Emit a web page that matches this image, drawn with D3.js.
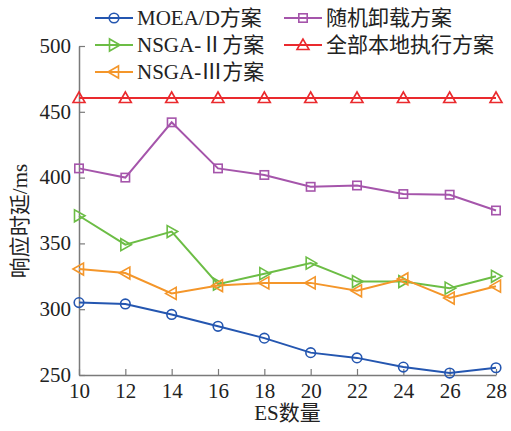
<!DOCTYPE html>
<html>
<head>
<meta charset="utf-8">
<script src="https://cdn.jsdelivr.net/npm/d3@7"></script>
<style>
  html, body { margin: 0; padding: 0; background: #fff; }
</style>
</head>
<body>
<svg id="chart" width="511" height="431"></svg>
<script>
// ES count on the x axis
const esCounts = [10, 12, 14, 16, 18, 20, 22, 24, 26, 28];
const xTicks = [10, 12, 14, 16, 18, 20, 22, 24, 26, 28];
const yTicks = [250, 300, 350, 400, 450, 500];

// Response latency (ms) per scheme
const moead     = [305, 304, 296, 287, 278, 267, 263, 256, 251.5, 255.5];
const randomOff = [407, 400, 442, 407, 402, 393, 394, 387.5, 387, 375];
const nsga2     = [371, 349, 359, 319, 327, 335, 321, 321, 316, 325];
const allLocal  = [460.5, 460.5, 460.5, 460.5, 460.5, 460.5, 460.5, 460.5, 460.5, 460.5];
const nsga3     = [330.5, 327.5, 312, 318, 320, 320, 314, 323, 308.5, 317.5];

const seriesNames = ["MOEA/D方案", "随机卸载方案", "NSGA-Ⅱ方案", "全部本地执行方案", "NSGA-Ⅲ方案"];

const series = [
  { name: seriesNames[0], values: moead,     color: "#2456b0", marker: "circle" },
  { name: seriesNames[1], values: randomOff, color: "#a555ab", marker: "square" },
  { name: seriesNames[2], values: nsga2,     color: "#6cbd45", marker: "triRight" },
  { name: seriesNames[3], values: allLocal,  color: "#ea2a2e", marker: "triUp" },
  { name: seriesNames[4], values: nsga3,     color: "#f4962a", marker: "triLeft" }
];

const FONT = "'Liberation Serif', 'Noto Sans CJK SC', serif";
const svg = d3.select("#chart");
const margin = { left: 79, right: 15, top: 46, bottom: 56 };
const W = 511, H = 431;

const x = d3.scaleLinear().domain([10, 28]).range([margin.left, W - margin.right]);
const y = d3.scaleLinear().domain([250, 500]).range([H - margin.bottom, margin.top]);

// Axes: bottom and left only, ticks pointing inward
const axisColor = "#7a7a7a";
const xAxis = svg.append("g")
  .attr("transform", `translate(0,${y(250)})`)
  .call(d3.axisBottom(x).tickValues(xTicks).tickSizeInner(-6).tickSizeOuter(0).tickPadding(5).tickFormat(d3.format("d")));
const yAxis = svg.append("g")
  .attr("transform", `translate(${x(10)},0)`)
  .call(d3.axisLeft(y).tickValues(yTicks).tickSizeInner(-6).tickSizeOuter(0).tickPadding(8).tickFormat(d3.format("d")));
[xAxis, yAxis].forEach(g => {
  g.attr("font-family", FONT);
  g.selectAll("path.domain").attr("stroke", axisColor).attr("stroke-width", 1.5);
  g.selectAll(".tick line").attr("stroke", axisColor).attr("stroke-width", 1.2);
  g.selectAll(".tick text").attr("font-size", 21).attr("fill", "#222").style("font-family", FONT);
});
xAxis.selectAll(".tick text").attr("dy", "0.85em");
yAxis.selectAll(".tick text").attr("dy", "0.3em");

// Axis titles
svg.append("text")
  .attr("x", (x(10) + x(28)) / 2).attr("y", 420)
  .attr("text-anchor", "middle").attr("font-size", 21)
  .style("font-family", FONT).attr("fill", "#222")
  .text("ES数量");
svg.append("text")
  .attr("transform", `translate(27,221) rotate(-90)`)
  .attr("text-anchor", "middle").attr("font-size", 21)
  .style("font-family", FONT).attr("fill", "#222")
  .text("响应时延/ms");

// Marker drawing helper
function drawMarker(g, type, cx, cy, color) {
  const sw = 1.6;
  if (type === "circle") {
    g.append("circle").attr("cx", cx).attr("cy", cy).attr("r", 4.8)
      .attr("fill", "none").attr("stroke", color).attr("stroke-width", sw);
  } else if (type === "square") {
    g.append("rect").attr("x", cx - 4.2).attr("y", cy - 4.2).attr("width", 8.4).attr("height", 8.4)
      .attr("fill", "none").attr("stroke", color).attr("stroke-width", sw);
  } else {
    const s = 6;
    let pts;
    if (type === "triUp") pts = [[cx, cy - s], [cx - s, cy + s * 0.75], [cx + s, cy + s * 0.75]];
    else if (type === "triRight") pts = [[cx + s, cy], [cx - s * 0.75, cy - s], [cx - s * 0.75, cy + s]];
    else pts = [[cx - s, cy], [cx + s * 0.75, cy - s], [cx + s * 0.75, cy + s]];
    g.append("polygon").attr("points", pts.map(p => p.join(",")).join(" "))
      .attr("fill", "none").attr("stroke", color).attr("stroke-width", sw).attr("stroke-linejoin", "miter");
  }
}

const line = d3.line().x((d, i) => x(esCounts[i])).y(d => y(d));
const plot = svg.append("g");
series.forEach(s => {
  const g = plot.append("g");
  g.append("path").datum(s.values).attr("d", line)
    .attr("fill", "none").attr("stroke", s.color).attr("stroke-width", 2);
  s.values.forEach((v, i) => drawMarker(g, s.marker, x(esCounts[i]), y(v), s.color));
});

// Legend: two columns
const legendPos = [
  { lx: 95, ty: 18 }, { lx: 284, ty: 18 },
  { lx: 95, ty: 45 }, { lx: 284, ty: 45 },
  { lx: 95, ty: 72 }
];
series.forEach((s, i) => {
  const p = legendPos[i];
  const g = svg.append("g");
  g.append("line").attr("x1", p.lx).attr("x2", p.lx + 38).attr("y1", p.ty).attr("y2", p.ty)
    .attr("stroke", s.color).attr("stroke-width", 2);
  drawMarker(g, s.marker, p.lx + 19, p.ty, s.color);
  g.append("text").attr("x", p.lx + 42).attr("y", p.ty).attr("dy", "0.35em")
    .attr("font-size", 21).style("font-family", FONT).attr("fill", "#222").text(s.name);
});
</script>
</body>
</html>
